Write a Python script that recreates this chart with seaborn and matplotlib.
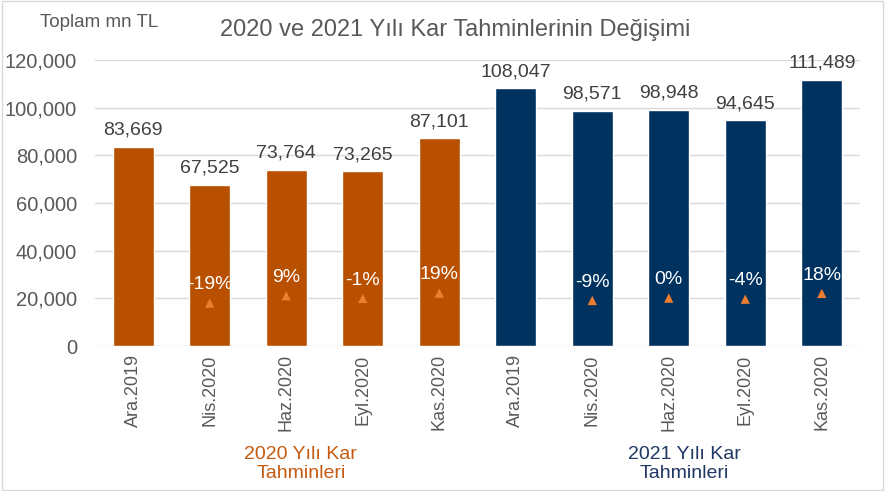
import numpy as np
import pandas as pd
import seaborn as sns
import matplotlib.pyplot as plt
from matplotlib.patches import Rectangle

donemler = ['Ara.2019', 'Nis.2020', 'Haz.2020', 'Eyl.2020', 'Kas.2020']
kar_2020 = [83669, 67525, 73764, 73265, 87101]
kar_2021 = [108047, 98571, 98948, 94645, 111489]
degisim_2020 = [None, -0.19, 0.09, -0.01, 0.19]
degisim_2021 = [None, -0.09, 0.00, -0.04, 0.18]
gruplar = ['2020 Yılı Kar\nTahminleri', '2021 Yılı Kar\nTahminleri']

TURUNCU = '#B85000'
LACIVERT = '#00325F'
GRI = '#595959'

df = pd.DataFrame({
    'anahtar': [f'{y}|{d}' for y in ('2020', '2021') for d in donemler],
    'donem': donemler * 2,
    'grup': ['2020'] * 5 + ['2021'] * 5,
    'kar': kar_2020 + kar_2021,
    'degisim': degisim_2020 + degisim_2021,
})
df['x'] = np.arange(len(df))

sns.set_theme(style='white')
plt.rcParams['font.family'] = ['Liberation Sans', 'DejaVu Sans']

fig = plt.figure(figsize=(8.85, 4.91), dpi=100)
ax = fig.add_axes([0.1073, 0.2953, 0.8645, 0.5825])

sns.barplot(data=df, x='anahtar', y='kar', hue='grup', palette=[TURUNCU, LACIVERT],
            width=0.54, dodge=False, legend=False, ax=ax, saturation=1)
ax.set_xlim(-0.5, 9.5)
ax.set_ylim(0, 120000)
ax.set_yticks(np.arange(0, 120001, 20000))
ax.set_yticklabels([f'{v:,}' for v in range(0, 120001, 20000)], fontsize=14.5, color=GRI)
ax.set_xticks(df['x'])
ax.set_xticklabels(df['donem'], rotation=90, fontsize=13, color=GRI)
ax.tick_params(axis='both', length=0, pad=6)
ax.tick_params(axis='y', pad=13)
ax.set_xlabel('')
ax.set_ylabel('')
ax.grid(axis='y', color='#D9D9D9', linewidth=1)
ax.set_axisbelow(True)
for s in ax.spines.values():
    s.set_visible(False)

for x, v in zip(df['x'], df['kar']):
    ax.annotate(f'{v:,}', (x, v), xytext=(0, 6), textcoords='offset points',
                ha='center', va='bottom', fontsize=14, color='#404040',
                annotation_clip=False)

ax2 = ax.twinx()
d2 = df.dropna(subset=['degisim'])
sns.scatterplot(data=d2, x='x', y='degisim', marker='^', color='#ED7D31', s=45,
                edgecolor='none', ax=ax2, legend=False)
ax2.set_ylim(-1.82, 9.05)
ax2.set_yticks([])
ax2.set_ylabel('')
for s in ax2.spines.values():
    s.set_visible(False)
for x, v in zip(d2['x'], d2['degisim']):
    ax2.annotate(f'{v:.0%}', (x, v), xytext=(0, 7), textcoords='offset points',
                 ha='center', va='bottom', fontsize=14, color='white')

fig.text(0.514, 0.938, '2020 ve 2021 Yılı Kar Tahminlerinin Değişimi',
         ha='center', va='center', fontsize=17, color=GRI)
fig.text(0.045, 0.955, 'Toplam mn TL', ha='left', va='center', fontsize=13.5, color=GRI)
fig.text(0.340, 0.055, gruplar[0], ha='center', va='center', fontsize=14,
         color='#C55A11', linespacing=1.15)
fig.text(0.773, 0.055, gruplar[1], ha='center', va='center', fontsize=14,
         color='#1F3864', linespacing=1.15)

fig.patches.append(Rectangle((0.002, 0.002), 0.996, 0.996, transform=fig.transFigure,
                             fill=False, edgecolor='#D9D9D9', linewidth=1))

fig.savefig('out.png', dpi=100)
